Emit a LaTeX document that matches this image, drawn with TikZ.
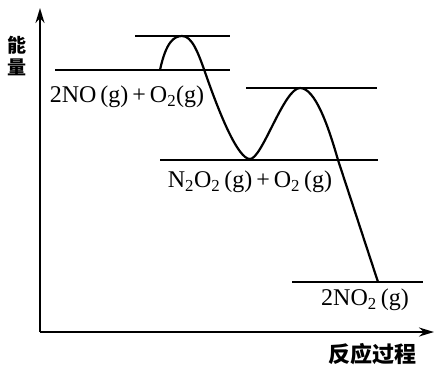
\documentclass[tikz,border=0pt]{standalone}
\usepackage{fontspec}
\setmainfont{Liberation Serif}
\newfontfamily\cjk{Noto Sans CJK SC}
\usetikzlibrary{arrows.meta, positioning}

\begin{document}
\begin{tikzpicture}[
    x=1pt, y=-1pt,
    >={Stealth[length=15pt, width=9pt]},
    level/.style={line width=2.2pt},
    path line/.style={line width=2.2pt},
    species/.style={font=\fontsize{24}{26}\selectfont, inner sep=0pt},
    axislabel/.style={font=\cjk\bfseries\fontsize{19}{22}\selectfont, inner sep=0pt, align=center},
]
    \useasboundingbox (0,0) rectangle (435,365);
    \coordinate (origin) at (40,332);
    \coordinate (ytop) at (40,8);
    \coordinate (xend) at (434,332);
    \draw[->, line width=2.2pt] (origin) -- (ytop);
    \draw[->, line width=2.2pt] (origin) -- (xend);
    \node[axislabel] (energy) at (17,56) {能\\量};
    \node[axislabel, font=\cjk\bfseries\fontsize{22}{24}\selectfont] (progress) at (372,354) {反应过程};

    \coordinate (reactL) at (55,70);   \coordinate (reactR) at (230,70);
    \coordinate (tsaL) at (135,36);    \coordinate (tsaR) at (230,36);
    \coordinate (midL) at (160,160);   \coordinate (midR) at (378,160);
    \coordinate (tsbL) at (246,88);    \coordinate (tsbR) at (377,88);
    \coordinate (prodL) at (292,282);  \coordinate (prodR) at (423,282);
    \draw[level] (reactL) -- (reactR);
    \draw[level] (tsaL) -- (tsaR);
    \draw[level] (midL) -- (midR);
    \draw[level] (tsbL) -- (tsbR);
    \draw[level] (prodL) -- (prodR);

    \node[species] (react) at (127,97) {2NO\,(g)\,+\,O\textsubscript{2}(g)};
    \node[species] (mid) at (250,182) {N\textsubscript{2}O\textsubscript{2}\,(g)\,+\,O\textsubscript{2}\,(g)};
    \node[species] (prod) at (365,300) {2NO\textsubscript{2}\,(g)};

    \coordinate (start) at (160,70);
    \coordinate (peakA) at (182,36);
    \coordinate (valley) at (250,159);
    \coordinate (peakB) at (300,88);
    \coordinate (bend) at (338,160);
    \coordinate (finish) at (378,282);
    \draw[path line] (start) .. controls (166,42) and (174,36) .. (peakA)
        .. controls (192,36) and (198,52) .. (206,75)
        .. controls (220,115) and (238,159) .. (valley)
        .. controls (262,159) and (284,88) .. (peakB)
        .. controls (315,88) and (328,125) .. (bend) -- (finish);
\end{tikzpicture}
\end{document}
